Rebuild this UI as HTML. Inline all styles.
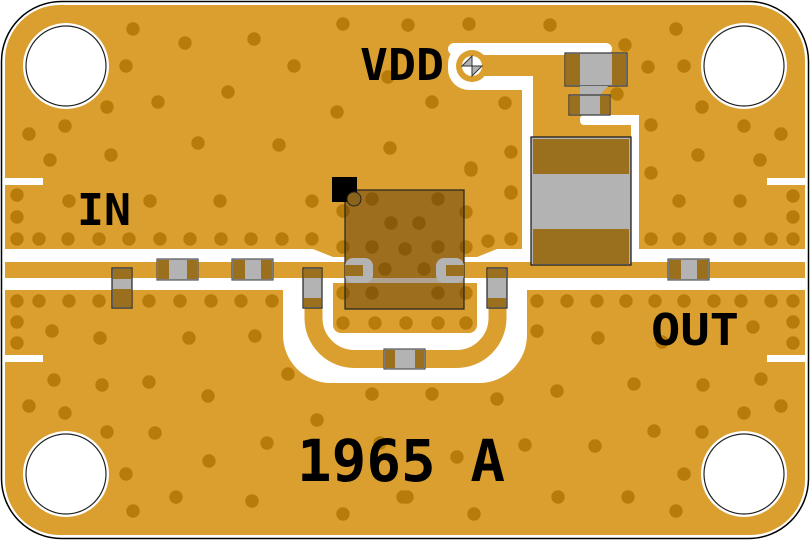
<!DOCTYPE html>
<html><head><meta charset="utf-8"><style>html,body{margin:0;padding:0;background:#fff}svg{display:block}</style></head>
<body>
<svg width="810" height="540" viewBox="0 0 810 540" xmlns="http://www.w3.org/2000/svg">
<rect x="1.5" y="1.5" width="807" height="537" rx="60" fill="#fff" stroke="#000" stroke-width="1.5"/>
<rect x="5" y="5" width="800" height="530" rx="55" fill="#DA9F2F"/>
<!-- notches -->
<g fill="#fff">
<rect x="5" y="178" width="38" height="7"/><rect x="5" y="355" width="38" height="7"/>
<rect x="767" y="178" width="38" height="7"/><rect x="767" y="355" width="38" height="7"/>
<!-- clearances around RF -->
<polygon points="5,249 313,249 333,257 345,257 345,263 5,263"/>
<polygon points="464,257 477,257 497,249 805,249 805,263 464,263"/>
<rect x="5" y="277" width="800" height="13"/>
<path d="M283,277 V335 A48,48 0 0 0 331,383 H479 A48,48 0 0 0 527,335 V277 Z"/>
<!-- DC clearance -->
<rect x="448" y="43" width="164" height="12" rx="6"/>
<rect x="448" y="43" width="42" height="47" rx="21"/>
<rect x="468" y="76" width="65" height="14"/>
<rect x="522" y="76" width="11" height="186"/>
<rect x="580" y="115" width="59" height="10" rx="4"/>
<rect x="631" y="115" width="8" height="148"/>
</g>
<g fill="#DA9F2F">
<path d="M313.5,270 V318 A41,41 0 0 0 354.5,359 H456.5 A41,41 0 0 0 497.5,318 V270" fill="none" stroke="#DA9F2F" stroke-width="18"/>
<path d="M333,283 H477 V325 A8,8 0 0 1 469,333 H341 A8,8 0 0 1 333,325 Z"/>
<rect x="5" y="262" width="800" height="16"/>
<rect x="472" y="55" width="140" height="21"/>
<rect x="533" y="55" width="47" height="72"/>
<rect x="533" y="125" width="98" height="140"/>
<circle cx="472" cy="66" r="16"/>
</g>
<!-- dots -->
<g fill="#B77B0A">
<circle cx="133" cy="29" r="6.7"/><circle cx="185" cy="43" r="6.7"/><circle cx="254" cy="39" r="6.7"/><circle cx="343" cy="24" r="6.7"/>
<circle cx="126" cy="66" r="6.7"/><circle cx="294" cy="66" r="6.7"/><circle cx="228" cy="92" r="6.7"/><circle cx="158" cy="102" r="6.7"/>
<circle cx="107" cy="107" r="6.7"/><circle cx="337" cy="112" r="6.7"/><circle cx="65" cy="126" r="6.7"/><circle cx="29" cy="134" r="6.7"/>
<circle cx="198" cy="143" r="6.7"/><circle cx="279" cy="145" r="6.7"/><circle cx="390" cy="148" r="6.7"/><circle cx="50" cy="160" r="6.7"/>
<circle cx="111" cy="155" r="6.7"/><circle cx="388" cy="77" r="6.7"/><circle cx="17" cy="195" r="6.7"/><circle cx="69" cy="201" r="6.7"/>
<circle cx="150" cy="201" r="6.7"/><circle cx="220" cy="201" r="6.7"/><circle cx="312" cy="201" r="6.7"/><circle cx="17" cy="217" r="6.7"/>
<circle cx="17" cy="239" r="6.7"/><circle cx="39" cy="239" r="6.7"/><circle cx="68" cy="239" r="6.7"/><circle cx="99" cy="239" r="6.7"/>
<circle cx="129" cy="239" r="6.7"/><circle cx="160" cy="239" r="6.7"/><circle cx="190" cy="239" r="6.7"/><circle cx="221" cy="239" r="6.7"/>
<circle cx="251" cy="239" r="6.7"/><circle cx="282" cy="239" r="6.7"/><circle cx="312" cy="239" r="6.7"/><circle cx="343" cy="211" r="6.7"/>
<circle cx="343" cy="247" r="6.7"/><circle cx="372" cy="199" r="6.7"/><circle cx="438" cy="199" r="6.7"/><circle cx="466" cy="212" r="6.7"/>
<circle cx="391" cy="223" r="6.7"/><circle cx="419" cy="223" r="6.7"/><circle cx="372" cy="247" r="6.7"/><circle cx="405" cy="249" r="6.7"/>
<circle cx="438" cy="247" r="6.7"/><circle cx="466" cy="247" r="6.7"/><circle cx="385" cy="269" r="6.7"/><circle cx="424" cy="269" r="6.7"/>
<circle cx="343" cy="293" r="6.7"/><circle cx="372" cy="293" r="6.7"/><circle cx="438" cy="293" r="6.7"/><circle cx="466" cy="293" r="6.7"/>
<circle cx="343" cy="323" r="6.7"/><circle cx="375" cy="323" r="6.7"/><circle cx="406" cy="323" r="6.7"/><circle cx="438" cy="323" r="6.7"/><circle cx="466" cy="323" r="6.7"/>
<circle cx="488" cy="241" r="6.7"/><circle cx="511" cy="193" r="6.7"/><circle cx="471" cy="170" r="6.7"/>
<circle cx="408" cy="25" r="6.7"/><circle cx="469" cy="24" r="6.7"/><circle cx="550" cy="25" r="6.7"/><circle cx="625" cy="45" r="6.7"/>
<circle cx="676" cy="29" r="6.7"/><circle cx="648" cy="67" r="6.7"/><circle cx="684" cy="66" r="6.7"/><circle cx="432" cy="102" r="6.7"/>
<circle cx="505" cy="103" r="6.7"/><circle cx="617" cy="94" r="6.7"/><circle cx="702" cy="107" r="6.7"/><circle cx="651" cy="125" r="6.7"/>
<circle cx="744" cy="126" r="6.7"/><circle cx="781" cy="134" r="6.7"/><circle cx="511" cy="152" r="6.7"/><circle cx="471" cy="168" r="6.7"/>
<circle cx="698" cy="155" r="6.7"/><circle cx="760" cy="160" r="6.7"/><circle cx="651" cy="173" r="6.7"/><circle cx="511" cy="192" r="6.7"/>
<circle cx="679" cy="201" r="6.7"/><circle cx="740" cy="201" r="6.7"/><circle cx="793" cy="196" r="6.7"/><circle cx="793" cy="217" r="6.7"/>
<circle cx="651" cy="239" r="6.7"/><circle cx="679" cy="239" r="6.7"/><circle cx="710" cy="239" r="6.7"/><circle cx="740" cy="239" r="6.7"/>
<circle cx="771" cy="239" r="6.7"/><circle cx="793" cy="239" r="6.7"/><circle cx="511" cy="239" r="6.7"/>
<circle cx="17" cy="301" r="6.7"/><circle cx="39" cy="301" r="6.7"/><circle cx="69" cy="301" r="6.7"/><circle cx="99" cy="301" r="6.7"/>
<circle cx="149" cy="301" r="6.7"/><circle cx="180" cy="301" r="6.7"/><circle cx="211" cy="301" r="6.7"/><circle cx="241" cy="301" r="6.7"/><circle cx="272" cy="301" r="6.7"/>
<circle cx="17" cy="322" r="6.7"/><circle cx="52" cy="331" r="6.7"/><circle cx="100" cy="338" r="6.7"/><circle cx="189" cy="338" r="6.7"/>
<circle cx="255" cy="336" r="6.7"/><circle cx="17" cy="343" r="6.7"/><circle cx="54" cy="380" r="6.7"/><circle cx="102" cy="385" r="6.7"/>
<circle cx="149" cy="382" r="6.7"/><circle cx="208" cy="396" r="6.7"/><circle cx="288" cy="374" r="6.7"/><circle cx="29" cy="406" r="6.7"/>
<circle cx="65" cy="413" r="6.7"/><circle cx="372" cy="394" r="6.7"/><circle cx="317" cy="420" r="6.7"/><circle cx="107" cy="432" r="6.7"/>
<circle cx="155" cy="433" r="6.7"/><circle cx="267" cy="443" r="6.7"/><circle cx="209" cy="461" r="6.7"/><circle cx="126" cy="474" r="6.7"/>
<circle cx="176" cy="497" r="6.7"/><circle cx="252" cy="501" r="6.7"/><circle cx="133" cy="511" r="6.7"/><circle cx="343" cy="514" r="6.7"/>
<circle cx="403" cy="497" r="6.7"/><circle cx="380" cy="443" r="6.7"/>
<circle cx="537" cy="301" r="6.7"/><circle cx="567" cy="301" r="6.7"/><circle cx="597" cy="301" r="6.7"/><circle cx="626" cy="301" r="6.7"/>
<circle cx="655" cy="301" r="6.7"/><circle cx="684" cy="301" r="6.7"/><circle cx="714" cy="301" r="6.7"/><circle cx="741" cy="301" r="6.7"/>
<circle cx="771" cy="301" r="6.7"/><circle cx="793" cy="301" r="6.7"/>
<circle cx="537" cy="331" r="6.7"/><circle cx="598" cy="338" r="6.7"/><circle cx="662" cy="342" r="6.7"/><circle cx="753" cy="327" r="6.7"/>
<circle cx="793" cy="322" r="6.7"/><circle cx="793" cy="343" r="6.7"/><circle cx="432" cy="394" r="6.7"/><circle cx="497" cy="399" r="6.7"/>
<circle cx="557" cy="391" r="6.7"/><circle cx="634" cy="384" r="6.7"/><circle cx="703" cy="385" r="6.7"/><circle cx="761" cy="379" r="6.7"/>
<circle cx="781" cy="406" r="6.7"/><circle cx="744" cy="413" r="6.7"/><circle cx="654" cy="431" r="6.7"/><circle cx="702" cy="432" r="6.7"/>
<circle cx="525" cy="445" r="6.7"/><circle cx="595" cy="446" r="6.7"/><circle cx="457" cy="457" r="6.7"/><circle cx="684" cy="474" r="6.7"/>
<circle cx="407" cy="497" r="6.7"/><circle cx="558" cy="497" r="6.7"/><circle cx="628" cy="497" r="6.7"/><circle cx="474" cy="514" r="6.7"/><circle cx="676" cy="511" r="6.7"/>
</g>
<!-- holes -->
<g fill="#fff" stroke="#222" stroke-width="1.2">
<circle cx="66" cy="66" r="43" stroke="none"/><circle cx="66" cy="66" r="40"/>
<circle cx="744" cy="66" r="43" stroke="none"/><circle cx="744" cy="66" r="40"/>
<circle cx="66" cy="474" r="43" stroke="none"/><circle cx="66" cy="474" r="40"/>
<circle cx="744" cy="474" r="43" stroke="none"/><circle cx="744" cy="474" r="40"/>
</g>
<!-- VDD pad -->
<circle cx="472" cy="66" r="10" fill="#fff"/>
<path d="M462,66 L472,56 V66 Z M472,66 H482 L472,76 Z" fill="#b3b3b3" stroke="#333" stroke-width="1"/>
<!-- chip -->
<rect x="345" y="190" width="119" height="119" fill="rgba(80,50,10,0.45)" stroke="#222" stroke-width="1.2"/>
<rect x="345" y="258" width="28" height="25" rx="8" fill="#b3b3b3"/>
<rect x="345" y="265" width="18" height="11" fill="#9A6F20"/>
<rect x="436" y="258" width="28" height="25" rx="8" fill="#b3b3b3"/>
<rect x="446" y="265" width="18" height="11" fill="#9A6F20"/>
<rect x="332" y="177" width="25" height="25" fill="#000"/>
<circle cx="354" cy="199" r="7" fill="#8a6418" stroke="#222" stroke-width="1"/>
<!-- components -->
<g stroke="#555" stroke-width="1.2">
<rect x="157" y="259" width="41" height="21" fill="#b3b3b3"/>
<rect x="232" y="259" width="41" height="21" fill="#b3b3b3"/>
<rect x="668" y="259" width="41" height="21" fill="#b3b3b3"/>
<rect x="384" y="349" width="41" height="20" fill="#b3b3b3"/>
</g>
<g fill="#9A6F1E">
<rect x="158" y="260" width="11" height="19"/><rect x="187" y="260" width="10" height="19"/>
<rect x="233" y="260" width="12" height="19"/><rect x="261" y="260" width="11" height="19"/>
<rect x="669" y="260" width="12" height="19"/><rect x="697" y="260" width="11" height="19"/>
<rect x="385" y="350" width="10" height="18"/><rect x="415" y="350" width="9" height="18"/>
</g>
<g stroke="#222" stroke-width="1.2">
<rect x="112" y="268" width="20" height="40" fill="#b3b3b3"/>
<rect x="303" y="268" width="19" height="40" fill="#b3b3b3"/>
<rect x="487" y="268" width="20" height="40" fill="#b3b3b3"/>
</g>
<g fill="#9A6F1E">
<rect x="113" y="269" width="18" height="10"/><rect x="113" y="289" width="18" height="18"/>
<rect x="304" y="269" width="17" height="9"/><rect x="304" y="298" width="17" height="9"/>
<rect x="488" y="269" width="18" height="9"/><rect x="488" y="298" width="18" height="9"/>
</g>
<rect x="565" y="53" width="62" height="33" fill="#b3b3b3" stroke="#333" stroke-width="1.2"/>
<rect x="566" y="54" width="14" height="31" fill="#9A6F1E"/><rect x="612" y="54" width="14" height="31" fill="#9A6F1E"/>
<polygon points="580,86 608,86 600,95 580,95" fill="#b3b3b3"/>
<rect x="569" y="95" width="41" height="20" fill="#b3b3b3" stroke="#333" stroke-width="1.2"/>
<rect x="570" y="96" width="10" height="18" fill="#9A6F1E"/><rect x="600" y="96" width="9" height="18" fill="#9A6F1E"/>
<rect x="531" y="137" width="100" height="128" fill="#b3b3b3" stroke="#111" stroke-width="1.2"/>
<rect x="533" y="139" width="96" height="35" fill="#9A6F1E"/>
<rect x="533" y="229" width="96" height="35" fill="#9A6F1E"/>
<!-- text -->
<g font-family="'DejaVu Sans Mono','Liberation Mono',monospace" font-weight="bold" fill="#000">
<text x="360" y="80" font-size="44" textLength="84" lengthAdjust="spacingAndGlyphs">VDD</text>
<text x="77" y="225" font-size="44" textLength="54" lengthAdjust="spacingAndGlyphs">IN</text>
<text x="651" y="345" font-size="44" textLength="88" lengthAdjust="spacingAndGlyphs">OUT</text>
<text x="297" y="481" font-size="58" textLength="208" lengthAdjust="spacingAndGlyphs">1965 A</text>
</g>
</svg>
</body></html>
